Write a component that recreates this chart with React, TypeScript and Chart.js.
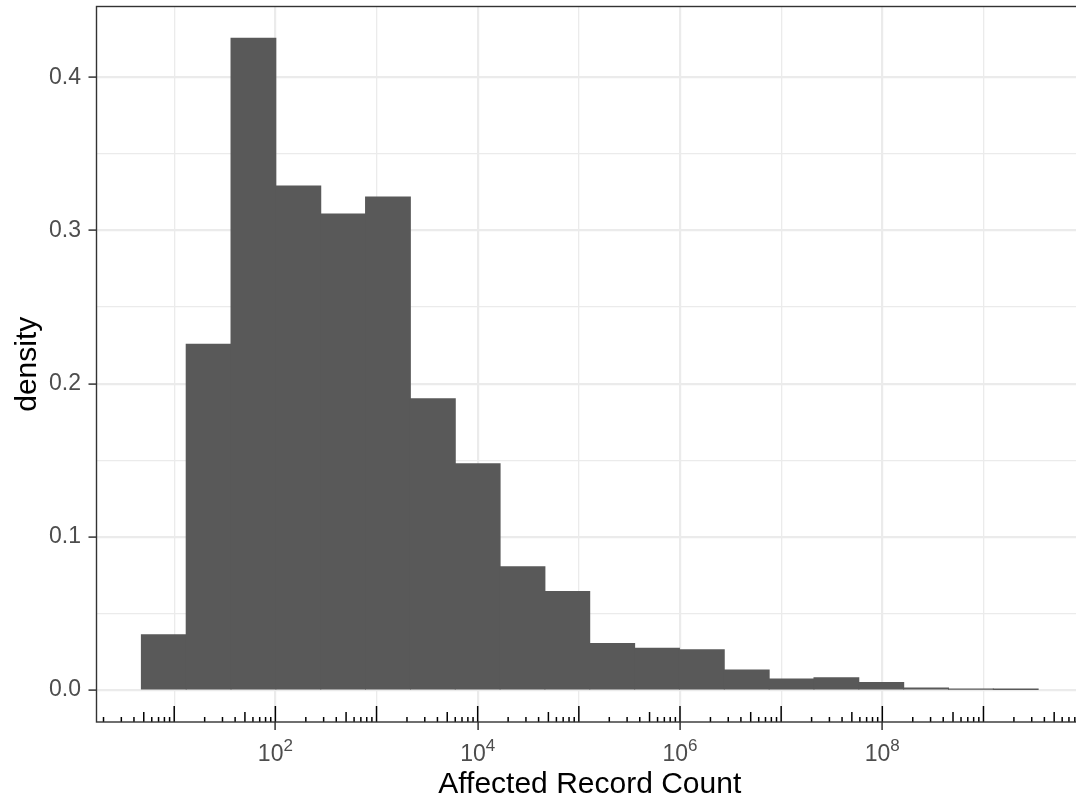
import React, { useEffect, useRef } from "react";
import { Chart, registerables } from "chart.js";

Chart.register(...registerables);

// Histogram bin centers (log10 of affected record count)
const binCentersLog10 = [
  0.897, 1.34, 1.783, 2.227, 2.67, 3.113, 3.557, 4.0, 4.443, 4.886,
  5.33, 5.773, 6.216, 6.66, 7.103, 7.546, 7.99, 8.433, 8.876, 9.319,
];
// Density per bin
const density = [
  0.0362, 0.2258, 0.4254, 0.3291, 0.3108, 0.3219, 0.1902, 0.1478, 0.0806, 0.0643,
  0.0305, 0.0273, 0.0264, 0.0132, 0.0073, 0.008, 0.0049, 0.0014, 0.0005, 0.0004,
];
// Axis ticks
const yTickValues = [0, 0.05, 0.1, 0.15, 0.2, 0.25, 0.3, 0.35, 0.4];
const yMajorTicks = [0, 0.1, 0.2, 0.3, 0.4];
const xDecades = [1, 2, 3, 4, 5, 6, 7, 8, 9];
const xLabelExponents = [2, 4, 6, 8];
const logTickMultipliers = [1, 2, 3, 4, 5, 6, 7, 8, 9];
const logTickDecades = [0, 1, 2, 3, 4, 5, 6, 7, 8, 9];
const xTitle = "Affected Record Count";
const yTitle = "density";

const FONT = "'Liberation Sans', Arial, Helvetica, sans-serif";
const isMajorY = (v: number) => yMajorTicks.some((m) => Math.abs(m - v) < 1e-9);

export default function App() {
  const canvasRef = useRef<HTMLCanvasElement | null>(null);

  useEffect(() => {
    const canvas = canvasRef.current;
    if (!canvas) return;

    const decor = {
      id: "ggDecor",
      afterDraw(chart: any) {
        const { ctx, chartArea } = chart;
        const xs = chart.scales.x;
        ctx.save();
        // log ticks along the bottom of the panel
        ctx.strokeStyle = "#000000";
        ctx.lineWidth = 1.5;
        for (const k of logTickDecades) {
          for (const m of logTickMultipliers) {
            const v = k + Math.log10(m);
            if (v < xs.min || v > xs.max) continue;
            const px = xs.getPixelForValue(v);
            const len = m === 1 ? 16 : m === 5 ? 10 : 5;
            ctx.beginPath();
            ctx.moveTo(px, chartArea.bottom);
            ctx.lineTo(px, chartArea.bottom - len);
            ctx.stroke();
          }
        }
        // panel border
        ctx.strokeStyle = "#333333";
        ctx.lineWidth = 1.4;
        ctx.strokeRect(
          chartArea.left,
          chartArea.top,
          chartArea.right - chartArea.left,
          chartArea.bottom - chartArea.top
        );
        // x tick labels 10^k
        ctx.fillStyle = "#4D4D4D";
        ctx.textBaseline = "alphabetic";
        ctx.textAlign = "left";
        for (const e of xLabelExponents) {
          const px = xs.getPixelForValue(e);
          ctx.font = `23px ${FONT}`;
          const w1 = ctx.measureText("10").width;
          ctx.font = `17px ${FONT}`;
          const es = String(e);
          const w2 = ctx.measureText(es).width;
          const start = px - (w1 + w2) / 2;
          ctx.font = `23px ${FONT}`;
          ctx.fillText("10", start, chartArea.bottom + 39);
          ctx.font = `17px ${FONT}`;
          ctx.fillText(es, start + w1, chartArea.bottom + 28.5);
        }
        ctx.restore();
      },
    };

    const chart = new Chart(canvas, {
      type: "bar",
      data: {
        datasets: [
          {
            data: binCentersLog10.map((x, i) => ({ x, y: density[i] })),
            backgroundColor: "#595959",
            borderWidth: 0,
            barPercentage: 1,
            categoryPercentage: 1,
            inflateAmount: 0.5,
          },
        ],
      },
      options: {
        animation: false,
        responsive: false,
        maintainAspectRatio: false,
        devicePixelRatio: 1,
        layout: { padding: { left: 0, right: 7, top: 6.5, bottom: 0 } },
        plugins: {
          legend: { display: false },
          tooltip: { enabled: false },
        },
        scales: {
          x: {
            type: "linear",
            min: 0.2317,
            max: 9.984,
            offset: false,
            afterBuildTicks: (scale: any) => {
              scale.ticks = xDecades.map((v) => ({ value: v }));
            },
            afterFit: (scale: any) => {
              scale.height = 78;
              scale.paddingLeft = 0;
              scale.paddingRight = 0;
            },
            border: { display: false },
            grid: {
              offset: false,
              color: "#EBEBEB",
              lineWidth: (c: any) => (c.tick && c.tick.value % 2 === 0 ? 2.2 : 1.3),
              drawTicks: true,
              tickLength: 8,
              tickWidth: 1.5,
              tickColor: (c: any) =>
                c.tick && xLabelExponents.includes(c.tick.value) ? "#333333" : "rgba(0,0,0,0)",
            },
            ticks: {
              callback: () => "",
              padding: 0,
            },
            title: {
              display: true,
              text: xTitle,
              color: "#000000",
              font: { family: FONT, size: 30, lineHeight: 1 },
              padding: { top: 0, bottom: 0 },
            },
          },
          y: {
            type: "linear",
            min: -0.0208,
            max: 0.4462,
            afterBuildTicks: (scale: any) => {
              scale.ticks = yTickValues.map((v) => ({ value: v }));
            },
            afterFit: (scale: any) => {
              scale.width = 96.5;
              scale.paddingTop = 0;
              scale.paddingBottom = 0;
            },
            border: { display: false },
            grid: {
              color: "#EBEBEB",
              lineWidth: (c: any) => (c.tick && isMajorY(c.tick.value) ? 2.2 : 1.3),
              drawTicks: true,
              tickLength: 8,
              tickWidth: 1.5,
              tickColor: (c: any) =>
                c.tick && isMajorY(c.tick.value) ? "#333333" : "rgba(0,0,0,0)",
            },
            ticks: {
              color: "#4D4D4D",
              font: { family: FONT, size: 23 },
              padding: 7.5,
              callback: (v: any) => (isMajorY(Number(v)) ? Number(v).toFixed(1) : ""),
            },
            title: {
              display: true,
              text: yTitle,
              color: "#000000",
              font: { family: FONT, size: 30, lineHeight: 1 },
              padding: { top: 13, bottom: 0 },
            },
          },
        },
      },
      plugins: [decor],
    } as any);

    return () => chart.destroy();
  }, []);

  return (
    <div
      style={{
        position: "absolute",
        left: 0,
        top: 0,
        width: 1076,
        height: 800,
        overflow: "hidden",
        background: "#FFFFFF",
      }}
    >
      <canvas ref={canvasRef} width={1090} height={800} style={{ display: "block" }} />
    </div>
  );
}
